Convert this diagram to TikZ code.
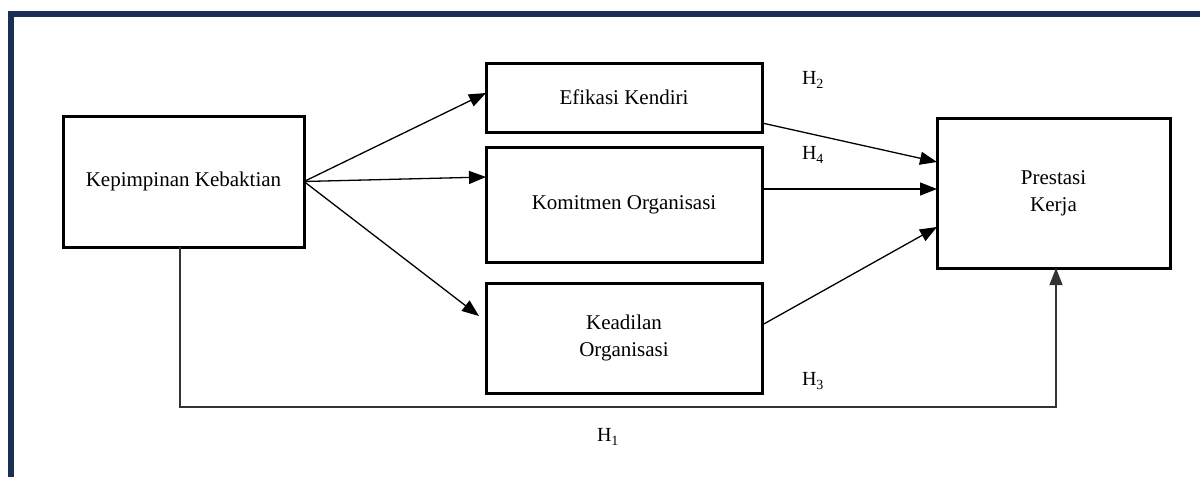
\documentclass[tikz,border=0pt]{standalone}
\usepackage{fontspec}
\setmainfont{Liberation Serif}
\usetikzlibrary{arrows.meta,calc}
\definecolor{navy}{HTML}{1A2F55}
\definecolor{lgrey}{HTML}{333333}
\tikzset{
  box/.style={draw=black, line width=3pt, fill=white, align=center, inner sep=0pt, outer sep=0pt,
    font=\fontsize{21}{27}\selectfont},
  link/.style={line width=1.3pt, draw=black, -{Triangle[length=17pt,width=13pt]}},
  hlabel/.style={font=\fontsize{20}{24}\selectfont, inner sep=0pt}
}
\begin{document}
\begin{tikzpicture}[x=1pt,y=-1pt]
\useasboundingbox (0,0) rectangle (1200,477);
\fill[white] (0,0) rectangle (1200,477);
\fill[navy] (8,11) rectangle (1200,17);
\fill[navy] (8,11) rectangle (14,477);

\node[box, minimum width=241pt, minimum height=131pt] (kk) at (183.5,181.5) {Kepimpinan Kebaktian};
\node[box, minimum width=276pt, minimum height=69pt] (ek) at (624,97.5) {Efikasi Kendiri};
\node[box, minimum width=276pt, minimum height=115pt] (km) at (624,204.5) {Komitmen Organisasi};
\node[box, minimum width=276pt, minimum height=110pt] (kd) at (624,338) {Keadilan\\Organisasi};
\node[box, minimum width=233pt, minimum height=150pt] (ps) at (1053.5,193) {Prestasi\\Kerja};

\draw[link] (kk.east) -- ([yshift=4.5pt]ek.west);
\draw[link] (kk.east) -- ([yshift=27.5pt]km.west);
\draw[link] (kk.east) -- ([xshift=-7pt,yshift=22pt]kd.west);

\draw[link] ([yshift=-25.5pt]ek.east) -- ([yshift=31pt]ps.west);
\draw[link] ([yshift=15.5pt]km.east) -- ([yshift=4pt]ps.west);
\draw[link] ([yshift=13pt]kd.east) -- ([yshift=-34pt]ps.west);

\coordinate (h1c) at (1056,407);
\draw[link, draw=lgrey] ([xshift=-3.5pt]kk.south) |- (h1c) -- (h1c |- ps.south);

\node[hlabel] (h2) at (813,80) {H\textsubscript{2}};
\node[hlabel] (h4) at (813,155) {H\textsubscript{4}};
\node[hlabel] (h3) at (813,381) {H\textsubscript{3}};
\node[hlabel] (h1) at (608,437) {H\textsubscript{1}};
\end{tikzpicture}
\end{document}
